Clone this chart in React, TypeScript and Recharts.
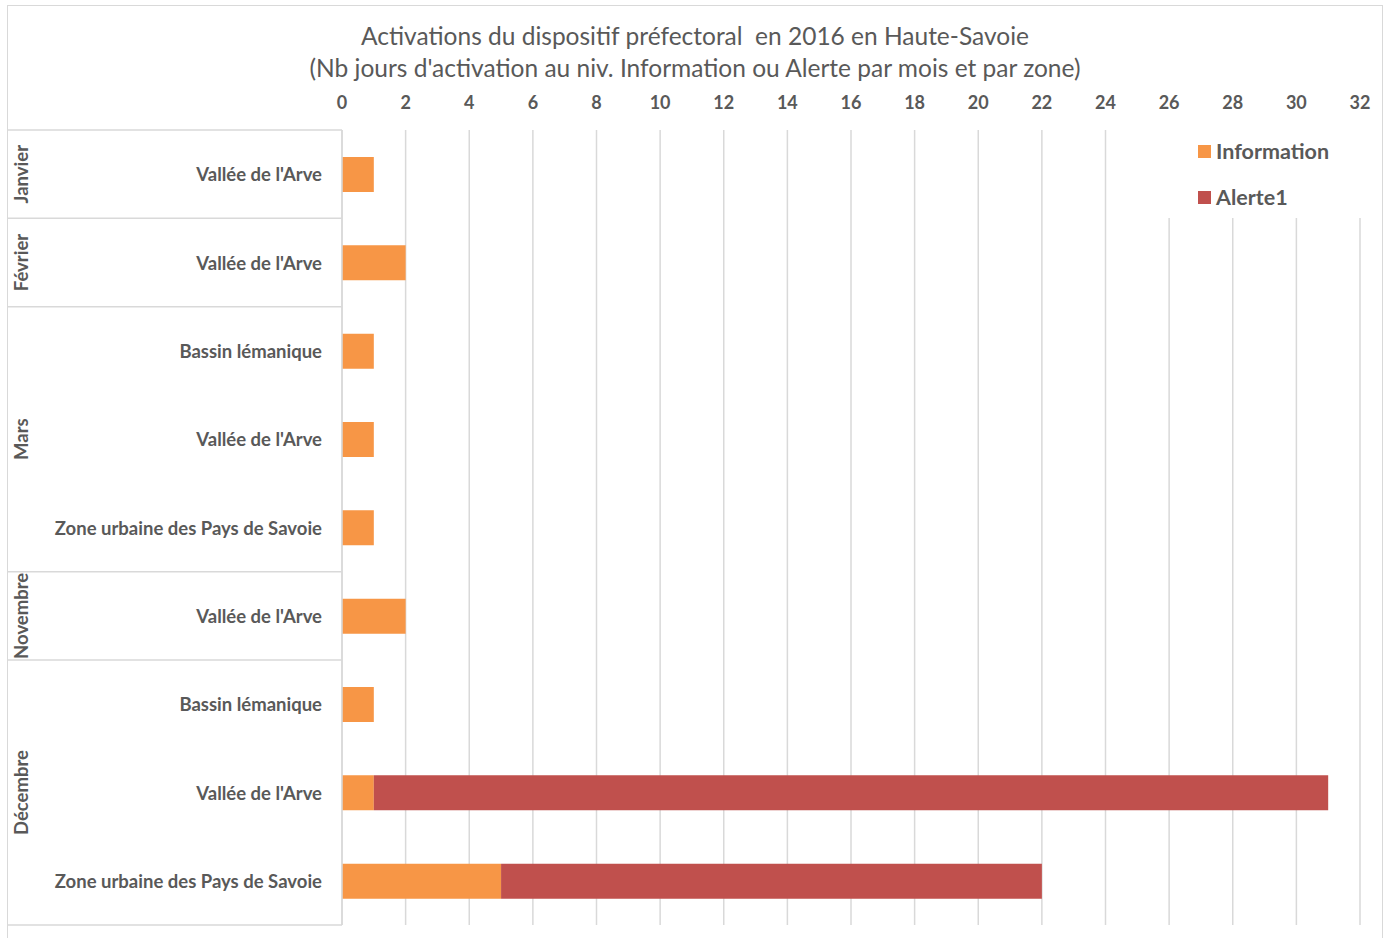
import React from 'react';
import { BarChart, Bar, XAxis, YAxis, CartesianGrid } from 'recharts';

const months = ['Janvier', 'Février', 'Mars', 'Mars', 'Mars', 'Novembre', 'Décembre', 'Décembre', 'Décembre'];
const zones = [
  "Vallée de l'Arve",
  "Vallée de l'Arve",
  'Bassin lémanique',
  "Vallée de l'Arve",
  'Zone urbaine des Pays de Savoie',
  "Vallée de l'Arve",
  'Bassin lémanique',
  "Vallée de l'Arve",
  'Zone urbaine des Pays de Savoie',
];
const information = [1, 2, 1, 1, 1, 2, 1, 1, 5];
const alerte1 = [0, 0, 0, 0, 0, 0, 0, 30, 17];
const xTicks = [0, 2, 4, 6, 8, 10, 12, 14, 16, 18, 20, 22, 24, 26, 28, 30, 32];
const seriesNames = ['Information', 'Alerte1'];
const seriesColors = ['#F79646', '#C0504D'];

const data = zones.map((z, i) => ({
  key: `${months[i]}|${z}|${i}`,
  month: months[i],
  zone: z,
  Information: information[i],
  Alerte1: alerte1[i] || null,
}));

const W = 1388;
const H = 938;
const X_AXIS_H = 30;
const M_TOP = 100;
const M_BOTTOM = 13;
const M_LEFT = 8;
const Y_W = 334;
const M_RIGHT = 28;
const BAND = (H - M_TOP - X_AXIS_H - M_BOTTOM) / data.length;
const AXIS_X = M_LEFT + Y_W;
const FONT = 'Lato, "Open Sans", sans-serif';
const GRAY = '#595959';
const LINE = '#d9d9d9';

const CategoryTick = (props: any) => {
  const { x, y, index } = props;
  const i = index;
  const d = data[i];
  const first = i === 0 || data[i - 1].month !== d.month;
  const last = i === data.length - 1;
  let groupLen = 0;
  if (first) {
    let j = i;
    while (j < data.length && data[j].month === d.month) {
      groupLen++;
      j++;
    }
  }
  const groupCenter = y + ((groupLen - 1) * BAND) / 2;
  const mx = 21;
  return (
    <g>
      {first && (
        <line x1={M_LEFT} x2={AXIS_X} y1={y - BAND / 2} y2={y - BAND / 2} stroke={LINE} strokeWidth={1.5} />
      )}
      {last && (
        <line x1={M_LEFT} x2={AXIS_X} y1={y + BAND / 2} y2={y + BAND / 2} stroke={LINE} strokeWidth={1.5} />
      )}
      <text x={x} y={y} textAnchor="end" dominantBaseline="central" fill={GRAY} fontFamily={FONT} fontWeight="bold" fontSize={18.5}>
        {d.zone}
      </text>
      {first && (
        <text
          x={mx}
          y={groupCenter}
          transform={`rotate(-90 ${mx} ${groupCenter})`}
          textAnchor="middle"
          dominantBaseline="central"
          fill={GRAY}
          fontFamily={FONT}
          fontWeight="bold"
          fontSize={18.5}
        >
          {d.month}
        </text>
      )}
    </g>
  );
};

export default function App() {
  return (
    <div style={{ position: 'absolute', left: 0, top: 0, width: W, height: H, background: '#fff', overflow: 'hidden' }}>
      <div style={{ position: 'absolute', left: 7, top: 5, width: 1374, height: 960, border: '1px solid #d9d9d9' }} />
      <div
        style={{
          position: 'absolute',
          left: 0,
          top: 20,
          width: 1390,
          textAlign: 'center',
          fontFamily: FONT,
          fontSize: 24.5,
          color: GRAY,
          lineHeight: '32px',
        }}
      >
        <div>Activations du dispositif préfectoral&nbsp; en 2016 en Haute-Savoie</div>
        <div>(Nb jours d'activation au niv. Information ou Alerte par mois et par zone)</div>
      </div>
      <div style={{ position: 'absolute', left: 0, top: 0 }}>
        <BarChart
          width={W}
          height={H}
          data={data}
          layout="vertical"
          margin={{ top: M_TOP, bottom: M_BOTTOM, left: M_LEFT, right: M_RIGHT }}
          barSize={35}
        >
          <CartesianGrid horizontal={false} stroke={LINE} strokeWidth={1.5} />
          <XAxis
            type="number"
            orientation="top"
            height={X_AXIS_H}
            domain={[0, 32]}
            ticks={xTicks}
            interval={0}
            axisLine={false}
            tickLine={false}
            tickSize={0}
            tickMargin={21}
            tick={{ fill: GRAY, fontFamily: FONT, fontWeight: 'bold', fontSize: 18 }}
          />
          <YAxis
            type="category"
            dataKey="key"
            width={Y_W}
            interval={0}
            tickLine={false}
            tickSize={0}
            tickMargin={20}
            axisLine={{ stroke: LINE, strokeWidth: 1.5 }}
            tick={<CategoryTick />}
          />
          <Bar dataKey="Information" stackId="a" fill={seriesColors[0]} isAnimationActive={false} />
          <Bar dataKey="Alerte1" stackId="a" fill={seriesColors[1]} isAnimationActive={false} />
        </BarChart>
      </div>
      <div
        style={{
          position: 'absolute',
          left: 1160,
          top: 128,
          width: 212,
          height: 90,
          background: '#fff',
          fontFamily: FONT,
          paddingLeft: 38,
          boxSizing: 'border-box',
        }}
      >
        {seriesNames.map((n, i) => (
          <div key={n} style={{ display: 'flex', alignItems: 'center', height: 46, color: GRAY, fontWeight: 'bold', fontSize: 21.5 }}>
            <span style={{ display: 'inline-block', width: 13, height: 13, background: seriesColors[i], marginRight: 5 }} />
            {n}
          </div>
        ))}
      </div>
    </div>
  );
}
